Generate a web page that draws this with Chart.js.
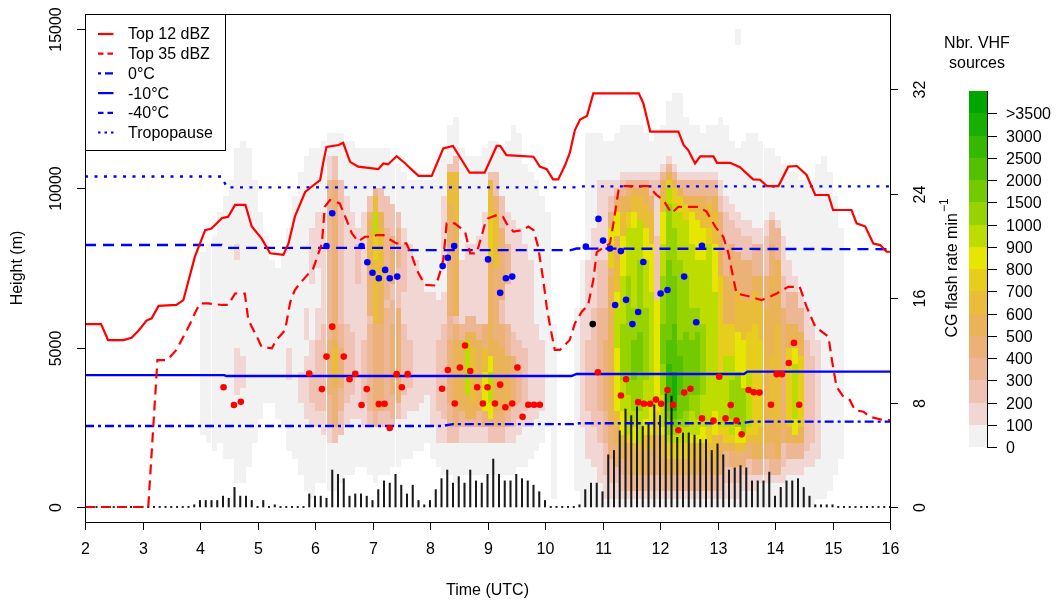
<!DOCTYPE html>
<html><head><meta charset="utf-8">
<script src="https://cdn.jsdelivr.net/npm/chart.js@4.4.1/dist/chart.umd.min.js"></script>
<style>html,body{margin:0;padding:0;background:#fff;}#wrap{width:1057px;height:603px;}</style>
</head><body><div id="wrap"><canvas id="c" width="1057" height="603"></canvas></div>
<script>
// ---------- DATA ----------
const xTicks = [2,3,4,5,6,7,8,9,10,11,12,13,14,15,16];
const yTicks = [0,5000,10000,15000];
const y2Ticks = [0,8,16,24,32];

const top12Time = [2.0,2.28,2.40,2.67,2.81,2.93,3.07,3.16,3.28,3.59,3.71,3.91,4.09,4.20,4.38,4.49,4.61,4.79,4.90,5.07,5.22,5.45,5.54,5.65,5.83,5.94,6.09,6.14,6.20,6.41,6.49,6.61,6.75,7.10,7.19,7.27,7.42,7.57,7.65,7.80,8.03,8.23,8.40,8.69,8.95,9.16,9.22,9.33,9.80,9.91,10.03,10.14,10.23,10.35,10.43,10.52,10.61,10.73,10.84,11.63,11.71,11.83,12.32,12.41,12.49,12.61,12.70,12.93,12.99,13.22,13.39,13.62,13.74,13.86,14.06,14.23,14.38,14.55,14.70,14.93,15.01,15.33,15.42,15.57,15.71,15.83,15.94,16.0];
const top12Height = [5740,5740,5240,5240,5310,5530,5850,5920,6310,6340,6490,7850,8690,8740,9060,9110,9480,9480,8800,8430,7960,7910,8270,9110,9890,10050,10260,10780,11300,11360,11430,10830,10680,10600,10780,10750,11010,10780,10640,10390,10390,11250,11330,10490,10490,11330,11330,11040,10990,10680,10600,10280,10280,10730,11100,11830,12160,12270,12980,12980,12670,11780,11780,11360,11200,10780,11000,11000,10800,10800,10660,10280,10270,10070,10070,10680,10700,10420,9790,9790,9320,9320,8900,8800,8270,8220,8010,8010];

const top35Time = [2.0,3.10,3.26,3.43,3.59,3.71,3.83,3.91,4.0,4.14,4.38,4.49,4.61,4.78,4.84,4.99,5.07,5.25,5.33,5.48,5.57,5.65,5.74,5.97,6.12,6.17,6.26,6.43,6.55,6.64,6.75,6.87,6.99,7.07,7.19,7.27,7.42,7.59,7.68,7.77,7.91,8.10,8.17,8.23,8.29,8.43,8.61,8.70,8.81,8.96,9.01,9.16,9.27,9.33,9.45,9.62,9.71,9.80,9.88,9.97,10.03,10.09,10.17,10.26,10.43,10.52,10.64,10.75,10.84,10.90,11.13,11.19,11.28,11.36,11.80,11.94,12.06,12.20,12.32,12.67,12.81,12.96,13.10,13.19,13.27,13.33,13.57,13.77,14.03,14.23,14.43,14.55,14.70,14.93,14.99,15.07,15.19,15.30,15.39,15.54,15.65,15.88,16.0];
const top35Height = [0,0,4610,4610,4930,5340,5760,6080,6390,6390,6340,6340,6700,6700,5870,5340,5030,4980,5240,5550,6440,6810,7020,7490,8270,9420,9630,9530,9000,8590,8330,8480,8480,8530,8530,8430,8270,8270,7910,7440,6970,6950,7330,7750,8900,8900,8640,7960,7960,8900,9060,9160,9100,8900,8640,8690,8800,8690,8170,7120,6280,5660,4930,4930,5240,5760,6130,6340,7120,8000,8270,8900,9950,10070,10070,9790,9630,9220,9420,9420,9270,8800,8480,7960,7230,6700,6600,6490,6700,6910,6910,6280,5660,5340,4610,3770,3460,3360,3040,2990,2830,2730,2730];

const iso0Time = [2,8.2,8.4,10.5,10.6,13.4,13.6,16];
const iso0Height = [2540,2540,2600,2600,2630,2630,2680,2680];
const iso10Time = [2,4.42,4.46,10.46,10.55,13.46,13.52,16];
const iso10Height = [4140,4140,4110,4110,4175,4175,4250,4250];
const iso40Time = [2,4.38,4.45,7.5,7.6,10.45,10.55,16];
const iso40Height = [8220,8220,8130,8130,8060,8060,8110,8090];
const tropoTime = [2,4.37,4.47,10.5,10.6,16];
const tropoHeight = [10370,10370,10030,10030,10060,10060];

const blueTime = [6.20,6.30,6.81,6.91,7.00,7.11,7.22,7.30,7.43,8.22,8.31,8.42,9.01,9.22,9.32,9.43,10.71,10.93,11.01,11.13,11.32,11.71,11.22,11.41,11.62,11.52,12.01,12.13,12.42,12.63,12.73];
const blueHeight = [8190,9220,8190,7680,7350,7180,7440,7180,7230,7560,7820,8190,7770,6720,7180,7230,8170,9040,8360,8110,8030,7690,6340,6500,6120,5740,6700,6810,7230,5800,8200];
const redTime = [4.41,4.59,4.71,5.90,6.12,6.20,6.30,6.50,6.60,6.70,6.81,6.90,7.11,7.21,7.30,7.42,7.51,7.61,8.21,8.31,8.43,8.52,8.61,8.70,8.82,8.92,9.00,9.13,9.22,9.31,9.43,9.52,9.61,9.71,9.81,9.91,10.92,11.32,11.41,11.62,11.72,11.83,11.93,12.02,12.13,12.23,12.32,12.42,12.53,12.73,12.93,13.03,13.14,13.23,13.33,13.42,13.54,13.63,13.73,13.93,14.03,14.12,14.24,14.33,14.42];
const redHeight = [3760,3200,3300,4190,3700,4720,5660,4720,4010,4180,3200,3700,3230,3240,2480,4170,3760,4170,3710,4300,3250,4380,5070,4270,3760,3250,3760,3250,3840,3130,3250,4380,2830,3210,3210,3210,4230,3500,4010,3290,3240,3240,3370,3240,3670,3210,2410,3590,3710,2780,2710,4090,2780,3200,2710,2280,3670,3600,3590,3210,4170,4170,4520,5150,3210];
const blackTime = [10.83];
const blackHeight = [5740];

// CG flash rate (min^-1), 6-min bins from 2.0 to 16.0 h
const cgStart = 2.0, cgStep = 0.1;
const cgRate = [
 0,0,0,0,0,0,0,0,0,0,
 0,0,0,0,0,0,0,0,0,0.17,
 0.5,0.5,0.5,0.5,0.83,0.67,1.5,0.83,0.83,0.5,
 0,0.5,0,0.17,0,0,0,0,0,1.0,
 0.83,0.83,0.67,2.83,2.5,2.17,0.83,1.0,1.0,0.83,
 0.5,1.33,2.0,1.83,2.5,1.67,1.0,1.67,0.5,0.17,
 0.5,1.33,2.17,2.83,1.83,2.33,1.83,2.83,2.0,1.83,
 2.5,3.67,2.5,2.0,2.0,2.5,2.17,2.0,1.67,1.17,
 0.5,0,0,0,0,0,0.17,1.33,1.83,1.83,
 1.17,4.0,4.33,5.83,7.5,7.0,7.67,6.17,6.33,7.83,
 7.0,8.67,8.5,5.33,5.67,5.67,5.5,5.17,5.17,4.33,
 4.83,4.0,2.83,3.0,3.17,3.0,2.0,2.0,2.0,2.67,
 0.83,1.5,2.0,2.0,2.17,1.5,0.83,0.17,0.17,0.17,
 0.17,0,0,0,0,0,0,0,0,0,
 0];

// VHF sources: 0.1 h x 250 m cells. Each column: "rowFrom-rowTo:level" runs (later runs override)
const vhfTimeStep = 0.1, vhfRowStep = 250;
const vhfTime = [4.0,4.1,4.2,4.3,4.4,4.5,4.6,4.7,4.8,4.9,5.0,5.1,5.2,5.3,5.4,5.5,5.6,5.7,5.8,5.9,
 6.0,6.1,6.2,6.3,6.4,6.5,6.6,6.7,6.8,6.9,7.0,7.1,7.2,7.3,7.4,7.5,7.6,7.7,7.8,7.9,
 8.0,8.1,8.2,8.3,8.4,8.5,8.6,8.7,8.8,8.9,9.0,9.1,9.2,9.3,9.4,9.5,9.6,9.7,9.8,9.9,
 10.0,10.1,10.5,10.6,10.7,10.8,10.9,
 11.0,11.1,11.2,11.3,11.4,11.5,11.6,11.7,11.8,11.9,12.0,12.1,12.2,12.3,12.4,12.5,12.6,12.7,12.8,12.9,
 13.0,13.1,13.2,13.3,13.4,13.5,13.6,13.7,13.8,13.9,14.0,14.1,14.2,14.3,14.4,14.5,14.6,14.7,14.8,14.9,15.0,15.1];
const vhfCells = [
 "9-31:0","8-32:0","7-33:0","8-36:0","6-38:0","6-40:0","3-44:0 14-19:1 31-32:1","3-45:0 15-18:1","5-44:0","8-40:0",
 "11-36:0","13-33:0","13-30:0","11-29:0","10-31:0","7-34:0 16-19:1","6-38:0","4-41:0 13-16:1","2-43:0 11-18:1 21-24:1","1-44:0 10-20:1 13-16:2 28-34:1",
 "3-44:0 10-24:1 12-20:2 30-36:1","3-45:0 9-36:1 12-22:2","2-46:0 8-43:1 10-40:3 14-20:4","2-46:0 8-43:2 10-40:4 15-20:5 16-19:6","3-46:0 9-40:2 12-22:3 15-19:4",
 "4-45:0 10-38:1 13-22:2","4-45:0 11-36:1 14-21:2","5-44:0 11-34:1 28-32:2","5-44:0 10-36:1 13-20:2","4-44:0 10-38:2 12-22:3 24-36:4 30-35:5",
 "3-44:0 10-39:3 12-22:4 23-33:6 31-34:7 34-37:9 37-38:6","4-44:0 10-39:2 12-22:4 23-36:5 28-34:6","4-44:0 10-38:2 12-24:3 26-34:3","5-42:0 10-37:2 11-25:3 14-22:4 28-33:4","5-42:0 11-36:2 13-24:4 30-34:3",
 "6-41:0 11-34:1 14-22:2 27-32:2","6-40:0 12-32:1 15-20:2","7-40:0 12-30:1","7-40:0 13-28:1","8-40:0 14-26:1",
 "6-40:0 10-26:1","5-42:0 8-25:1 12-20:2","4-43:0 8-26:1 11-22:2 30-38:1","4-47:0 8-42:2 10-24:3 13-20:4 24-36:4 36-40:5 38-41:6","3-48:0 8-43:2 10-22:4 13-20:5 24-35:5 36-41:6",
 "4-44:0 8-30:1 10-22:3 12-20:5","4-43:0 8-32:1 10-23:3 11-21:5 14-20:9","4-43:0 8-32:1 10-23:3 11-21:5 13-19:6","4-43:0 8-33:1 10-22:3 12-20:5","4-44:0 8-36:1 10-22:4 12-19:6 12-16:8",
 "4-45:0 8-41:2 10-40:4 11-18:8 13-16:9 19-30:5 31-37:7 37-40:6","4-45:0 8-41:2 10-38:4 12-20:5 30-36:6","4-44:0 8-38:2 10-22:4 12-19:5 26-34:4","4-45:0 8-36:1 10-22:3 12-18:5 28-32:3","4-47:0 8-35:1 10-21:2 13-18:4",
 "5-46:0 9-34:1 11-20:2 13-17:3","5-42:0 10-32:1 12-19:2","6-41:0 10-30:1","7-40:0 11-22:1","8-38:0 12-20:1",
 "10-36:0","1-22:0","2-24:0","0-30:0 10-24:1","0-46:0 6-30:1 12-20:2","0-46:0 5-34:1 10-24:2","0-46:0 3-40:1 8-30:2 12-24:3",
 "0-45:0 1-40:1 4-30:2 8-24:3 12-20:4",
 "0-45:0 1-40:1 3-38:2 6-36:4 10-28:5 30-34:7 33-34:8",
 "0-46:0 1-40:1 3-39:2 5-38:4 8-37:5 10-30:6 12-26:8 20-24:9 34-36:8",
 "0-47:0 1-41:1 2-40:2 4-39:3 6-38:5 8-36:6 9-33:8 12-28:9 16-22:10",
 "0-47:0 1-41:1 2-40:3 4-39:4 6-38:5 8-36:7 9-34:9 14-28:10",
 "0-47:0 1-41:1 2-40:3 4-39:5 7-38:6 8-36:8 10-34:9 12-24:10 16-20:11",
 "0-47:0 1-41:1 2-40:3 4-39:5 7-38:6 8-35:9 12-30:10 17-21:11",
 "0-46:0 1-41:1 2-40:3 4-39:5 7-37:6 9-34:8 11-30:9 16-24:10",
 "0-45:0 1-41:1 2-40:2 4-38:4 7-36:6 9-32:8 13-26:9",
 "0-46:0 1-41:1 2-40:2 4-38:4 6-33:5 9-30:7 12-25:8 26-33:2 34-38:1",
 "0-47:0 1-42:1 2-41:3 4-40:5 6-38:6 9-36:8 10-32:9 14-28:10 18-22:11",
 "0-50:0 1-43:1 2-42:3 4-41:5 6-40:7 8-39:9 9-37:10 11-30:11 12-20:12 13-17:13",
 "0-51:0 1-42:1 2-41:3 4-40:5 6-39:7 8-37:9 9-34:10 10-28:11 11-22:12 12-16:14",
 "0-51:0 1-41:1 2-40:3 4-39:5 6-38:7 8-36:9 10-30:10 11-20:11 14-18:12",
 "0-48:0 1-41:1 2-40:3 4-38:5 6-37:7 8-35:9 10-28:10 12-21:11",
 "0-47:0 1-41:1 2-40:3 4-38:5 6-37:6 8-36:8 9-32:9 12-24:10 14-20:11",
 "0-47:0 1-41:1 2-40:3 4-38:5 6-37:6 8-35:8 9-30:9 11-24:10 14-21:11",
 "0-46:0 1-41:1 2-40:3 4-38:5 6-36:6 8-34:8 10-30:9 14-22:10",
 "0-47:0 1-41:1 2-40:3 4-38:4 6-37:6 8-34:7 10-32:9",
 "0-47:0 1-41:1 2-40:3 4-38:5 6-36:6 9-32:8 12-26:9",
 "0-48:0 1-40:1 2-38:2 4-36:4 6-33:5 9-28:7 10-16:9",
 "0-47:0 1-38:1 3-36:2 5-32:3 7-28:5 8-22:7 10-18:9",
 "0-45:0 1-37:1 3-35:2 5-32:4 7-27:5 8-22:7 9-18:9 11-15:10",
 "0-44:0 1-36:1 3-34:2 5-31:4 7-26:6 8-21:8 10-16:10 58-59:0",
 "0-45:0 2-35:1 4-33:2 5-30:4 7-25:6 8-20:8 9-14:10",
 "0-46:0 2-35:1 4-33:2 6-30:4 8-25:6 9-21:7 10-16:9",
 "0-46:0 2-34:1 4-32:3 6-28:5 8-26:6 9-22:7",
 "0-45:0 3-34:1 4-32:3 6-28:5 8-25:6 10-20:7",
 "0-44:0 3-35:1 4-33:2 6-28:4 8-24:5",
 "0-44:0 3-36:1 4-35:3 6-32:4 8-28:5 11-18:6",
 "0-43:0 3-35:1 4-34:3 6-30:5 10-22:6",
 "0-42:0 3-33:1 5-28:2 8-24:4",
 "0-41:0 4-30:1 6-26:3 8-22:5 10-19:7",
 "0-41:0 4-28:1 6-26:3 8-22:5 9-19:8 11-17:9",
 "0-40:0 4-26:1 6-24:3 8-21:5 10-18:7",
 "0-40:0 5-24:1 7-20:2",
 "0-40:0 5-22:1 8-18:2",
 "1-42:0 6-20:1",
 "1-43:0","2-41:0","4-38:0","6-34:0"];
const vhfColors = ['#F2F2F2','#F1D6D3','#EFC2B3','#EDB694','#ECB176','#EAB358','#E9BD3A','#E7CE1D','#E6E600','#BDDC00','#97D300','#74CA00','#53C100','#35B800','#19AF00','#00A600'];
const vhfLevelLabels = ['0','100','200','300','400','500','600','700','800','900','1000','1500','2000','2500','3000','>3500'];

const legendLabels = ['Top 12 dBZ','Top 35 dBZ','0°C','-10°C','-40°C','Tropopause'];

// ---------- BUILD ----------
const pts = (tx, hy) => tx.map((t, i) => ({x: t, y: hy[i]}));
const FONT = '16px "Liberation Sans", Arial, sans-serif';
const RED = '#FF0000', BLUE = '#0000FF';

function parseColumn(spec) {
  const cells = [];
  spec.split(' ').filter(Boolean).forEach(tok => {
    const [range, lvl] = tok.split(':');
    const [a, b] = range.split('-').map(Number);
    for (let r = a; r <= b; r++) cells[r] = Number(lvl);
  });
  return cells;
}

const lineDs = (label, tx, hy, color, width, dash, order) => ({
  type: 'line', label, data: pts(tx, hy), borderColor: color, borderWidth: width,
  borderDash: dash, pointRadius: 0, tension: 0, fill: false, order, yAxisID: 'y', borderCapStyle: 'butt'
});
const pointDs = (label, tx, hy, color) => ({
  type: 'line', label, data: pts(tx, hy), showLine: false, pointRadius: 3.3, pointBackgroundColor: color,
  pointBorderWidth: 0, borderColor: color, order: 0, yAxisID: 'y'
});

const legendStyles = [
  {color: RED, width: 2.2, dash: []},
  {color: RED, width: 2.2, dash: [5.5, 4]},
  {color: BLUE, width: 2.2, dash: [3, 4, 8, 4]},
  {color: BLUE, width: 2.2, dash: []},
  {color: BLUE, width: 2.2, dash: [5.5, 4]},
  {color: BLUE, width: 2.2, dash: [2.5, 4]}
];

const customDraw = {
  id: 'customDraw',
  beforeDatasetsDraw(chart) {
    const {ctx, chartArea: a, scales: {x, y}} = chart;
    ctx.save();
    ctx.beginPath(); ctx.rect(a.left, a.top, a.right - a.left, a.bottom - a.top); ctx.clip();
    vhfTime.forEach((t, i) => {
      const cells = parseColumn(vhfCells[i]);
      const x0 = Math.round(x.getPixelForValue(t)), x1 = Math.round(x.getPixelForValue(t + vhfTimeStep));
      cells.forEach((lvl, r) => {
        if (lvl === undefined) return;
        const y0 = Math.round(y.getPixelForValue((r + 1) * vhfRowStep)), y1 = Math.round(y.getPixelForValue(r * vhfRowStep));
        ctx.fillStyle = vhfColors[lvl];
        ctx.fillRect(x0, y0, x1 - x0, y1 - y0);
      });
    });
    ctx.restore();
  },
  afterDraw(chart) {
    const {ctx, chartArea: a, scales} = chart;
    const xs = scales.x, ys = scales.y, y2 = scales.y2;
    const TICK = 8;
    const seg = (x0, y0, x1, y1) => { ctx.beginPath(); ctx.moveTo(x0, y0); ctx.lineTo(x1, y1); ctx.stroke(); };
    const rotText = (s, cx, cy) => { ctx.save(); ctx.translate(cx, cy); ctx.rotate(-Math.PI / 2); ctx.fillText(s, 0, 0); ctx.restore(); };
    ctx.save();
    ctx.strokeStyle = '#000'; ctx.fillStyle = '#000'; ctx.lineWidth = 1; ctx.setLineDash([]);
    ctx.strokeRect(a.left + 0.5, a.top + 0.5, a.right - a.left, a.bottom - a.top);
    ctx.font = FONT; ctx.textAlign = 'center'; ctx.textBaseline = 'middle';
    xTicks.forEach(v => { const px = Math.round(xs.getPixelForValue(v)) + 0.5; seg(px, a.bottom, px, a.bottom + TICK); ctx.fillText(String(v), px, 550); });
    yTicks.forEach(v => { const py = Math.round(ys.getPixelForValue(v)) + 0.5; seg(a.left - TICK, py, a.left, py); rotText(String(v), 57, py); });
    y2Ticks.forEach(v => { const py = Math.round(y2.getPixelForValue(v)) + 0.5; seg(a.right, py, a.right + TICK, py); rotText(String(v), 921, py); });
    ctx.fillText('Time (UTC)', (a.left + a.right) / 2, 591);
    rotText('Height (m)', 18, (a.top + a.bottom) / 2);
    // right title with superscript
    ctx.save();
    ctx.translate(953, 268); ctx.rotate(-Math.PI / 2);
    const mainT = 'CG flash rate min';
    ctx.font = FONT; const wm = ctx.measureText(mainT).width;
    ctx.font = '12px "Liberation Sans", Arial, sans-serif'; const ws = ctx.measureText('−1').width;
    const W = wm + ws + 1;
    ctx.textAlign = 'left';
    ctx.font = FONT; ctx.fillText(mainT, -W / 2, 0);
    ctx.font = '12px "Liberation Sans", Arial, sans-serif'; ctx.fillText('−1', -W / 2 + wm + 1, -8);
    ctx.restore();
    // legend
    const lx0 = 85, ly0 = 14, lx1 = 225, ly1 = 150;
    ctx.fillStyle = '#fff'; ctx.fillRect(lx0, ly0, lx1 - lx0, ly1 - ly0);
    ctx.strokeStyle = '#000'; ctx.lineWidth = 1; ctx.strokeRect(lx0 + 0.5, ly0 + 0.5, lx1 - lx0, ly1 - ly0);
    legendLabels.forEach((lab, i) => {
      const yy = 34 + i * 19.7, st = legendStyles[i];
      ctx.strokeStyle = st.color; ctx.lineWidth = st.width; ctx.setLineDash(st.dash);
      seg(98, yy, 113.5, yy);
      ctx.setLineDash([]);
      ctx.fillStyle = '#000'; ctx.font = FONT; ctx.textAlign = 'left'; ctx.textBaseline = 'middle';
      ctx.fillText(lab, 128, yy + 1);
    });
    // colour bar
    const cbL = 969, cbR = 987, cbB = 447, cbT = 91, bh = (cbB - cbT) / vhfColors.length;
    vhfColors.forEach((c, i) => {
      ctx.fillStyle = c;
      const yt = Math.round(cbB - (i + 1) * bh), yb = Math.round(cbB - i * bh);
      ctx.fillRect(cbL, yt, cbR - cbL, yb - yt);
    });
    ctx.strokeStyle = '#000'; ctx.lineWidth = 1; ctx.setLineDash([]);
    seg(cbR + 0.5, cbT, cbR + 0.5, cbB + 0.5);
    ctx.fillStyle = '#000'; ctx.textAlign = 'left'; ctx.textBaseline = 'middle'; ctx.font = FONT;
    vhfLevelLabels.forEach((lab, i) => {
      const yy = Math.round(cbB - i * bh) + 0.5;
      seg(cbR, yy, cbR + 10, yy);
      ctx.fillText(lab, 1006, yy + 1);
    });
    ctx.textAlign = 'center';
    ctx.fillText('Nbr. VHF', 977, 44);
    ctx.fillText('sources', 977, 64);
    ctx.restore();
  }
};

new Chart(document.getElementById('c'), {
  type: 'line',
  data: {
    datasets: [
      pointDs('Initiation (upper)', blueTime, blueHeight, BLUE),
      pointDs('Initiation (lower)', redTime, redHeight, RED),
      pointDs('Other', blackTime, blackHeight, '#000000'),
      lineDs('Top 12 dBZ', top12Time, top12Height, RED, 2.2, [], 1),
      lineDs('Top 35 dBZ', top35Time, top35Height, RED, 2.2, [10, 6], 1),
      lineDs('0°C', iso0Time, iso0Height, BLUE, 2.4, [9, 4, 3, 4], 1),
      lineDs('-10°C', iso10Time, iso10Height, BLUE, 2.4, [], 1),
      lineDs('-40°C', iso40Time, iso40Height, BLUE, 2.4, [11, 7], 1),
      lineDs('Tropopause', tropoTime, tropoHeight, BLUE, 2.4, [3, 6.5], 1),
      {type: 'bar', label: 'CG flash rate', data: cgRate.map((v, i) => ({x: +(cgStart + i * cgStep).toFixed(1), y: v})),
       backgroundColor: '#1a1a1a', borderWidth: 0, barThickness: 1.4, minBarLength: 1.2, yAxisID: 'y2', order: 2}
    ]
  },
  options: {
    responsive: false, animation: false, devicePixelRatio: 1,
    layout: {padding: {left: 85, right: 167, top: 14, bottom: 81}},
    plugins: {legend: {display: false}, tooltip: {enabled: false}},
    scales: {
      x: {type: 'linear', min: 2, max: 16, display: false, offset: false},
      y: {type: 'linear', min: -470, max: 15470, display: false},
      y2: {type: 'linear', min: -1.15, max: 37.75, display: false, position: 'right'}
    }
  },
  plugins: [customDraw]
});
</script></body></html>
